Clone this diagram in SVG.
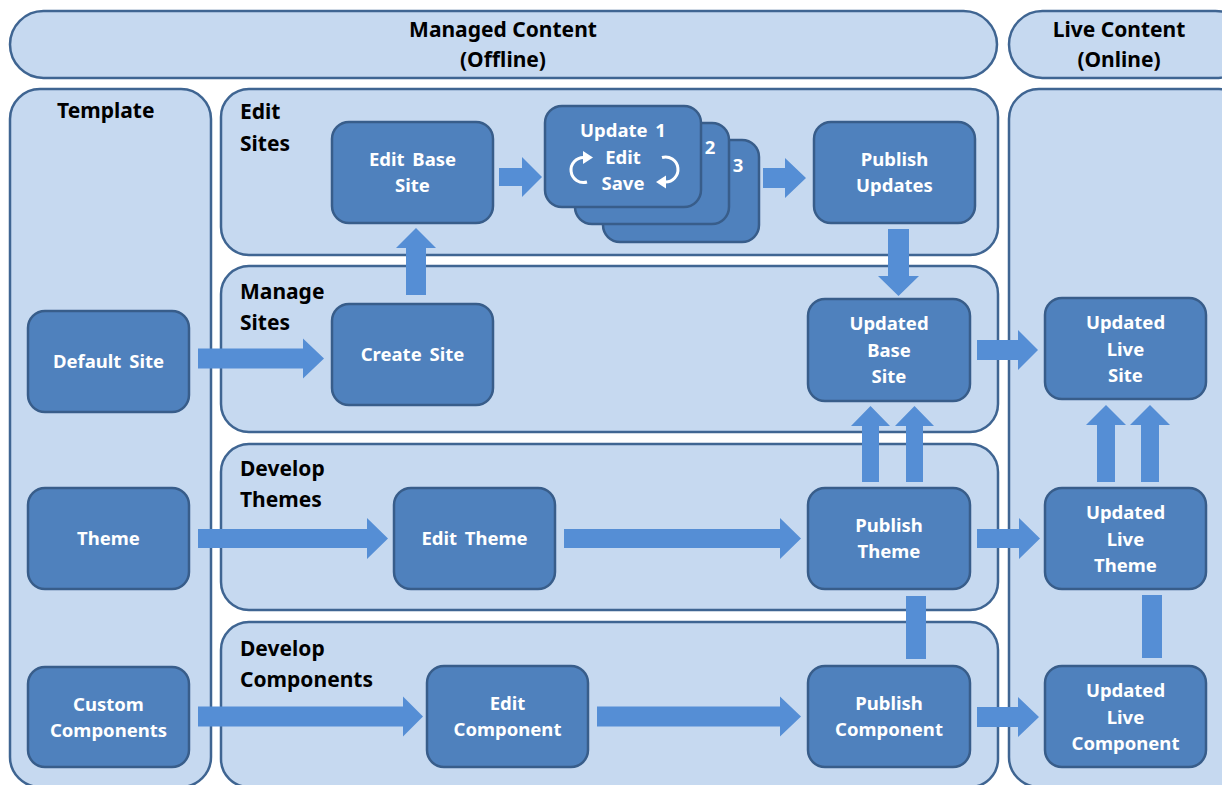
<svg xmlns="http://www.w3.org/2000/svg" width="1222" height="785" viewBox="0 0 1222 785">
<style>
.panel{fill:#C6D9F0;stroke:#3F6592;stroke-width:2.5}
.node{fill:#4F81BD;stroke:#385D8A;stroke-width:2.5}
.arr{fill:#558ED5}
.title{font-family:"Noto Sans","Liberation Sans",sans-serif;font-weight:bold;font-size:21px;fill:#000}
.hdr{font-family:"Noto Sans","Liberation Sans",sans-serif;font-weight:bold;font-size:21px;fill:#000;text-anchor:middle}
.lbl{font-family:"Noto Sans","Liberation Sans",sans-serif;font-weight:bold;font-size:18.5px;fill:#fff;text-anchor:middle;word-spacing:3px}
.loop{fill:none;stroke:#fff;stroke-width:3}
</style>
<rect width="1222" height="785" fill="#fff"/>
<g id="panels">
<g id="hdr-managed"><rect class="panel" x="10" y="11" width="987" height="67" rx="33.5"/>
<text class="hdr" x="503" y="37">Managed Content</text><text class="hdr" x="503" y="67">(Offline)</text></g>
<g id="hdr-live"><rect class="panel" x="1009" y="11" width="240" height="67" rx="33.5"/>
<text class="hdr" x="1119" y="37">Live Content</text><text class="hdr" x="1119" y="67">(Online)</text></g>
<g id="panel-template"><rect class="panel" x="10" y="89" width="201" height="698" rx="30"/>
<text class="title" x="57" y="118">Template</text></g>
<g id="panel-edit-sites"><rect class="panel" x="221" y="89" width="777" height="166" rx="28"/>
<text class="title" x="240" y="119">Edit</text><text class="title" x="240" y="151">Sites</text></g>
<g id="panel-manage-sites"><rect class="panel" x="221" y="266" width="777" height="166" rx="28"/>
<text class="title" x="240" y="299">Manage</text><text class="title" x="240" y="330">Sites</text></g>
<g id="panel-develop-themes"><rect class="panel" x="221" y="444" width="777" height="166" rx="28"/>
<text class="title" x="240" y="476">Develop</text><text class="title" x="240" y="507">Themes</text></g>
<g id="panel-develop-components"><rect class="panel" x="221" y="622" width="777" height="165" rx="28"/>
<text class="title" x="240" y="656">Develop</text><text class="title" x="240" y="687">Components</text></g>
<g id="panel-live"><rect class="panel" x="1009" y="89" width="240" height="698" rx="30"/></g>
</g>
<g id="connectors">
<polygon class="arr" points="198,348.5 303,348.5 303,338.5 324,358.5 303,378.5 303,368.5 198,368.5"/>
<polygon class="arr" points="198,529 367,529 367,518 388,538.5 367,559 367,548 198,548"/>
<polygon class="arr" points="198,706.5 403,706.5 403,696.5 423,716.5 403,736.5 403,726.5 198,726.5"/>
<polygon class="arr" points="564,529 780,529 780,518 801,538.5 780,559 780,548 564,548"/>
<polygon class="arr" points="597,706.5 780,706.5 780,696.5 801,716.5 780,736.5 780,726.5 597,726.5"/>
<polygon class="arr" points="499,168 522,168 522,157 542,177 522,197 522,186 499,186"/>
<polygon class="arr" points="763,168 785,168 785,158 806,178 785,198 785,188 763,188"/>
<polygon class="arr" points="977,340 1018,340 1018,330 1038,350 1018,370 1018,360 977,360"/>
<polygon class="arr" points="977,529 1019,529 1019,518 1040,538.5 1019,559 1019,548 977,548"/>
<polygon class="arr" points="977,707 1018,707 1018,697 1039,717 1018,737 1018,727 977,727"/>
<polygon class="arr" points="406,295 406,248 396,248 416,228 436,248 426,248 426,295"/>
<polygon class="arr" points="888,229 888,276 878,276 898.5,296 919,276 909,276 909,229"/>
<polygon class="arr" points="862,482 862,426 851,426 870.5,406 890,426 879,426 879,482"/>
<polygon class="arr" points="906,482 906,426 895,426 914.5,406 934,426 923,426 923,482"/>
<polygon class="arr" points="1097,482 1097,425 1086,425 1106,405 1126,425 1115,425 1115,482"/>
<polygon class="arr" points="1141,482 1141,425 1130,425 1150,405 1170,425 1159,425 1159,482"/>
<rect class="arr" x="906" y="596" width="20" height="63"/>
<rect class="arr" x="1142" y="595" width="20" height="63"/>
</g>
<g id="node-default-site"><rect class="node" x="28" y="311" width="161" height="101" rx="17"/><text class="lbl" x="108.5" y="368">Default Site</text></g>
<g id="node-theme"><rect class="node" x="28" y="488" width="161" height="101" rx="17"/><text class="lbl" x="108.5" y="545">Theme</text></g>
<g id="node-custom-components"><rect class="node" x="28" y="667" width="161" height="100" rx="17"/><text class="lbl" x="108.5" y="711">Custom</text><text class="lbl" x="108.5" y="737">Components</text></g>
<g id="node-edit-base-site"><rect class="node" x="332" y="122" width="161" height="101" rx="17"/><text class="lbl" x="412.5" y="166">Edit Base</text><text class="lbl" x="412.5" y="192">Site</text></g>
<g id="node-create-site"><rect class="node" x="332" y="304" width="161" height="101" rx="17"/><text class="lbl" x="412.5" y="361">Create Site</text></g>
<g id="node-updates">
<rect class="node" x="603" y="140" width="156" height="102" rx="17"/>
<rect class="node" x="575" y="123" width="154" height="101" rx="17"/>
<rect class="node" x="545" y="106" width="156" height="101" rx="17"/>
<text class="lbl" x="710" y="154">2</text>
<text class="lbl" x="738" y="172">3</text>
<text class="lbl" x="623" y="137">Update 1</text>
<text class="lbl" x="623" y="164">Edit</text>
<text class="lbl" x="623" y="190">Save</text>
<path class="loop" d="M587 182 A12.5 12.5 0 1 1 584 157.5"/>
<polygon fill="#fff" points="583,151 583,164 593,157.5"/>
<path class="loop" d="M662 157.5 A12.5 12.5 0 1 1 665 182"/>
<polygon fill="#fff" points="666,175.5 666,188.5 656,182"/>
</g>
<g id="node-publish-updates"><rect class="node" x="814" y="122" width="161" height="101" rx="17"/><text class="lbl" x="894.5" y="166">Publish</text><text class="lbl" x="894.5" y="192">Updates</text></g>
<g id="node-edit-theme"><rect class="node" x="394" y="488" width="161" height="101" rx="17"/><text class="lbl" x="474.5" y="545">Edit Theme</text></g>
<g id="node-edit-component"><rect class="node" x="427" y="666" width="161" height="101" rx="17"/><text class="lbl" x="507.5" y="710">Edit</text><text class="lbl" x="507.5" y="736">Component</text></g>
<g id="node-updated-base-site"><rect class="node" x="808" y="299" width="162" height="102" rx="17"/><text class="lbl" x="889" y="330">Updated</text><text class="lbl" x="889" y="357">Base</text><text class="lbl" x="889" y="383">Site</text></g>
<g id="node-publish-theme"><rect class="node" x="808" y="488" width="162" height="101" rx="17"/><text class="lbl" x="889" y="532">Publish</text><text class="lbl" x="889" y="558">Theme</text></g>
<g id="node-publish-component"><rect class="node" x="808" y="666" width="162" height="101" rx="17"/><text class="lbl" x="889" y="710">Publish</text><text class="lbl" x="889" y="736">Component</text></g>
<g id="node-updated-live-site"><rect class="node" x="1045" y="298" width="161" height="101" rx="17"/><text class="lbl" x="1125.5" y="329">Updated</text><text class="lbl" x="1125.5" y="356">Live</text><text class="lbl" x="1125.5" y="382">Site</text></g>
<g id="node-updated-live-theme"><rect class="node" x="1045" y="488" width="161" height="101" rx="17"/><text class="lbl" x="1125.5" y="519">Updated</text><text class="lbl" x="1125.5" y="546">Live</text><text class="lbl" x="1125.5" y="572">Theme</text></g>
<g id="node-updated-live-component"><rect class="node" x="1045" y="666" width="161" height="101" rx="17"/><text class="lbl" x="1125.5" y="697">Updated</text><text class="lbl" x="1125.5" y="724">Live</text><text class="lbl" x="1125.5" y="750">Component</text></g>
</svg>
